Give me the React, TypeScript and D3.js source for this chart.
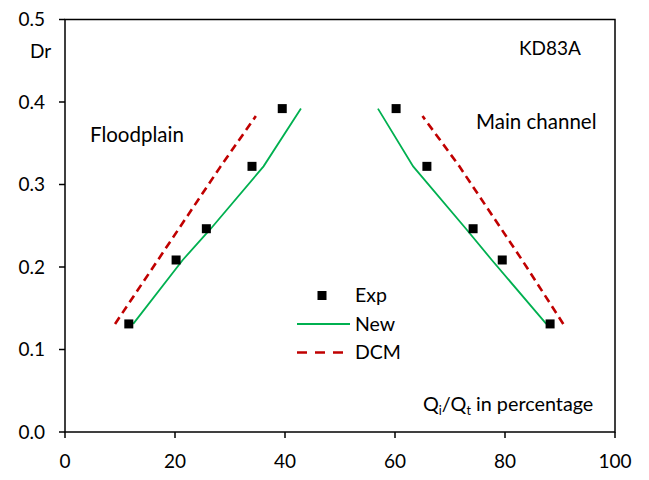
import React from 'react';
import * as d3 from 'd3';

// experimental points
const expFloodX = [11.6, 20.2, 25.7, 34.0, 39.5];
const expMainX = [88.2, 79.5, 74.2, 65.8, 60.2];
const expDr = [0.131, 0.2085, 0.2464, 0.322, 0.392];

// New model
const newFloodX = [12.4, 21.4, 26.5, 36.1, 42.9];
const newMainX = [87.5, 77.6, 72.9, 63.3, 56.9];
const newDr = [0.131, 0.2085, 0.2464, 0.322, 0.392];

// DCM
const dcmFloodX = [9.1, 16.9, 20.7, 28.3, 34.7];
const dcmMainX = [90.6, 83.1, 79.3, 71.7, 65.0];
const dcmDr = [0.131, 0.2085, 0.2464, 0.322, 0.383];

const xTicks = [0, 20, 40, 60, 80, 100];
const yTicks = [0, 0.1, 0.2, 0.3, 0.4, 0.5];

const W = 649;
const H = 480;
const FONT = 'Lato, sans-serif';

export default function App() {
  const x = d3.scaleLinear().domain([0, 100]).range([65, 615]);
  const y = d3.scaleLinear().domain([0, 0.5]).range([432, 19.5]);

  const line = d3
    .line<[number, number]>()
    .x((d) => x(d[0]))
    .y((d) => y(d[1]));

  const pts = (xs: number[], ys: number[]) => xs.map((v, i) => [v, ys[i]] as [number, number]);

  const green = '#00B050';
  const red = '#C00000';

  const exps = [...pts(expFloodX, expDr), ...pts(expMainX, expDr)];

  return (
    <div style={{ position: 'absolute', left: 0, top: 0 }}>
      <svg width={W} height={H} style={{ display: 'block', background: '#fff' }} fontFamily={FONT}>
        {/* frame */}
        <rect x={x(0)} y={y(0.5)} width={x(100) - x(0)} height={y(0) - y(0.5)} fill="none" stroke="#000" strokeWidth={1.5} />

        {/* y ticks */}
        {yTicks.map((t) => (
          <g key={'y' + t}>
            <line x1={x(0) - 6} x2={x(0)} y1={y(t)} y2={y(t)} stroke="#000" strokeWidth={1.5} />
            <text x={45} y={y(t)} dy="0.35em" textAnchor="end" fontSize={19} fill="#000">
              {t.toFixed(1)}
            </text>
          </g>
        ))}

        {/* x ticks */}
        {xTicks.map((t) => (
          <g key={'x' + t}>
            <line x1={x(t)} x2={x(t)} y1={y(0)} y2={y(0) + 6} stroke="#000" strokeWidth={1.5} />
            <text x={x(t)} y={468} textAnchor="middle" fontSize={19} fill="#000">
              {t}
            </text>
          </g>
        ))}

        {/* model lines */}
        <path d={line(pts(newFloodX, newDr)) || ''} fill="none" stroke={green} strokeWidth={1.8} />
        <path d={line(pts(newMainX, newDr)) || ''} fill="none" stroke={green} strokeWidth={1.8} />
        <path d={line(pts(dcmFloodX, dcmDr)) || ''} fill="none" stroke={red} strokeWidth={2.6} strokeDasharray="8,5" />
        <path d={line(pts(dcmMainX, dcmDr)) || ''} fill="none" stroke={red} strokeWidth={2.6} strokeDasharray="8,5" />

        {/* experimental */}
        {exps.map((d, i) => (
          <rect key={i} x={x(d[0]) - 4.5} y={y(d[1]) - 4.5} width={9} height={9} fill="#000" />
        ))}

        {/* annotations */}
        <text x={30} y={58} fontSize={19} fill="#000">Dr</text>
        <text x={519} y={55} fontSize={19} fill="#000">KD83A</text>
        <text x={90} y={142} fontSize={20.5} fill="#000">Floodplain</text>
        <text x={476} y={129} fontSize={20.5} fill="#000">Main channel</text>
        <text x={423} y={411} fontSize={19.8} fill="#000">
          Q<tspan fontSize={12.5} dy={4}>i</tspan>
          <tspan dy={-4}>/Q</tspan>
          <tspan fontSize={12.5} dy={4}>t</tspan>
          <tspan dy={-4}> in percentage</tspan>
        </text>

        {/* legend */}
        <rect x={322 - 4.5} y={295.5 - 4.5} width={9} height={9} fill="#000" />
        <text x={355} y={295.5} dy="0.35em" fontSize={19.5} fill="#000">Exp</text>
        <line x1={297} x2={350} y1={324} y2={324} stroke={green} strokeWidth={1.8} />
        <text x={355} y={324} dy="0.35em" fontSize={19.5} fill="#000">New</text>
        <line x1={297} x2={350} y1={352.5} y2={352.5} stroke={red} strokeWidth={2.6} strokeDasharray="10,8" />
        <text x={355} y={352.5} dy="0.35em" fontSize={19.5} fill="#000">DCM</text>
      </svg>
    </div>
  );
}
